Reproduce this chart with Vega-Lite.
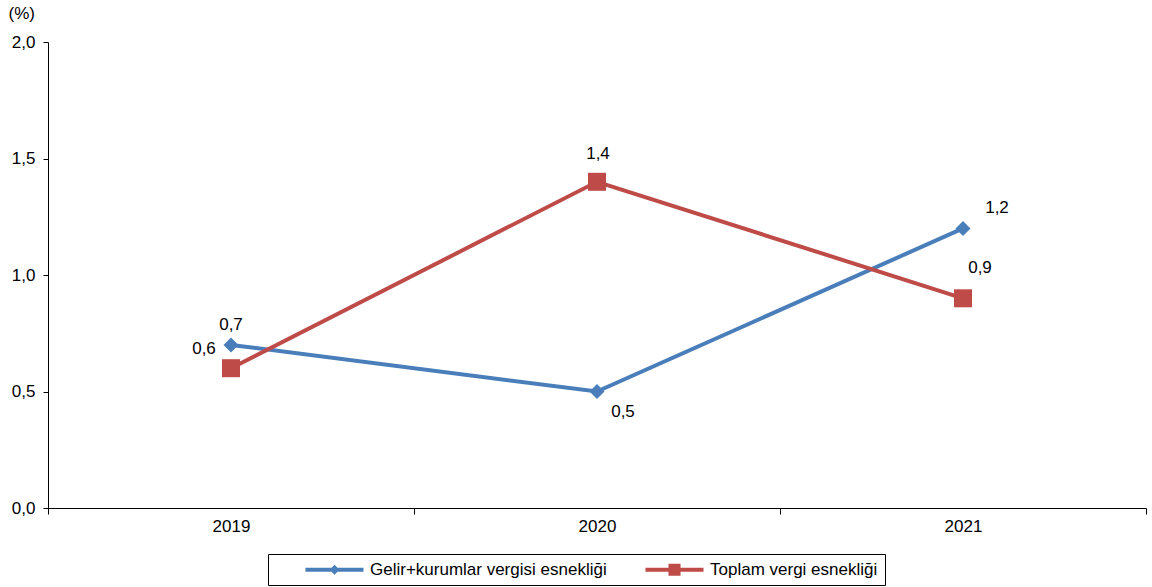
{
  "$schema": "https://vega.github.io/schema/vega-lite/v6.json",
  "width": 1098,
  "height": 466,
  "autosize": {"type": "none"},
  "padding": {"left": 48, "top": 42, "right": 6, "bottom": 79},
  "background": "white",
  "config": {
    "locale": {"number": {"decimal": ",", "thousands": ".", "grouping": [3], "currency": ["", " TL"]}},
    "font": "Liberation Sans",
    "view": {"stroke": null},
    "axis": {"labelFont": "Liberation Sans", "labelFontSize": 17, "labelColor": "black", "domainColor": "black", "tickColor": "black", "grid": false},
    "text": {"font": "Liberation Sans", "fontSize": 17, "color": "black"}
  },
  "data": {
    "values": [
      {"seri": "Gelir+kurumlar vergisi esnekliği", "yil": "2019", "deger": 0.7},
      {"seri": "Gelir+kurumlar vergisi esnekliği", "yil": "2020", "deger": 0.5},
      {"seri": "Gelir+kurumlar vergisi esnekliği", "yil": "2021", "deger": 1.2},
      {"seri": "Toplam vergi esnekliği", "yil": "2019", "deger": 0.6},
      {"seri": "Toplam vergi esnekliği", "yil": "2020", "deger": 1.4},
      {"seri": "Toplam vergi esnekliği", "yil": "2021", "deger": 0.9}
    ]
  },
  "encoding": {
    "x": {
      "field": "yil", "type": "ordinal",
      "scale": {"type": "band", "paddingInner": 0, "paddingOuter": 0},
      "axis": {"title": null, "labelAngle": 0, "tickBand": "extent", "tickSize": 6, "labelPadding": 4, "domainWidth": 1}
    },
    "y": {
      "field": "deger", "type": "quantitative",
      "scale": {"domain": [0, 2], "nice": false, "zero": true},
      "axis": {
        "values": [0, 0.5, 1, 1.5, 2], "format": ".1f", "tickSize": 5, "labelPadding": 8,
        "title": "(%)", "titleAngle": 0, "titleAlign": "left", "titleBaseline": "middle",
        "titleX": -40, "titleY": -29, "titleFont": "Liberation Sans", "titleFontSize": 17, "titleFontWeight": "normal", "titleColor": "black"
      }
    }
  },
  "layer": [
    {
      "mark": {"type": "line", "strokeWidth": 4},
      "encoding": {
        "color": {
          "field": "seri", "type": "nominal",
          "scale": {"domain": ["Gelir+kurumlar vergisi esnekliği", "Toplam vergi esnekliği"], "range": ["#4A7EBB", "#BE4B48"]},
          "legend": {
            "title": null, "orient": "none", "legendX": 220, "legendY": 512, "direction": "horizontal",
            "strokeColor": "black", "fillColor": "white", "padding": 7,
            "symbolSize": 196, "symbolOffset": 73, "columnPadding": 8, "labelOffset": 5,
            "labelFont": "Liberation Sans", "labelFontSize": 17, "labelColor": "black", "labelLimit": 0,
            "labelExpr": "datum.value === 'Toplam vergi esnekliği' ? datum.label + '    ' : datum.label",
            "encode": {
              "symbols": {
                "update": {
                  "shape": [
                    {"test": "datum.value === 'Toplam vergi esnekliği'", "value": "M-7.29,-0.29L1,-0.29L1,0.29L-7.29,0.29Z M-4,-0.86L-2.28,-0.86L-2.28,0.86L-4,0.86Z"},
                    {"value": "M-7.29,-0.29L1,-0.29L1,0.29L-7.29,0.29Z M-3.85,0L-3.14,-0.71L-2.43,0L-3.14,0.71Z"}
                  ],
                  "fill": {"scale": "color", "field": "value"},
                  "fillOpacity": {"value": 1},
                  "strokeWidth": {"value": 0},
                  "size": {"value": 196}
                }
              }
            }
          }
        }
      }
    },
    {
      "transform": [{"filter": "datum.seri === 'Gelir+kurumlar vergisi esnekliği'"}],
      "mark": {"type": "point", "filled": true, "opacity": 1, "shape": "diamond", "size": 225, "color": "#4A7EBB"}
    },
    {
      "transform": [{"filter": "datum.seri === 'Toplam vergi esnekliği'"}],
      "mark": {"type": "point", "filled": true, "opacity": 1, "shape": "square", "size": 324, "color": "#BE4B48"}
    },
    {
      "transform": [{"filter": "datum.seri === 'Gelir+kurumlar vergisi esnekliği' && datum.yil === '2019'"}],
      "mark": {"type": "text", "dx": 0, "dy": -20},
      "encoding": {"text": {"field": "deger", "type": "quantitative", "format": ".1f"}}
    },
    {
      "transform": [{"filter": "datum.seri === 'Toplam vergi esnekliği' && datum.yil === '2019'"}],
      "mark": {"type": "text", "dx": -27, "dy": -19},
      "encoding": {"text": {"field": "deger", "type": "quantitative", "format": ".1f"}}
    },
    {
      "transform": [{"filter": "datum.seri === 'Toplam vergi esnekliği' && datum.yil === '2020'"}],
      "mark": {"type": "text", "dx": 1, "dy": -28},
      "encoding": {"text": {"field": "deger", "type": "quantitative", "format": ".1f"}}
    },
    {
      "transform": [{"filter": "datum.seri === 'Gelir+kurumlar vergisi esnekliği' && datum.yil === '2020'"}],
      "mark": {"type": "text", "dx": 26, "dy": 20},
      "encoding": {"text": {"field": "deger", "type": "quantitative", "format": ".1f"}}
    },
    {
      "transform": [{"filter": "datum.seri === 'Gelir+kurumlar vergisi esnekliği' && datum.yil === '2021'"}],
      "mark": {"type": "text", "dx": 34, "dy": -20},
      "encoding": {"text": {"field": "deger", "type": "quantitative", "format": ".1f"}}
    },
    {
      "transform": [{"filter": "datum.seri === 'Toplam vergi esnekliği' && datum.yil === '2021'"}],
      "mark": {"type": "text", "dx": 17, "dy": -30},
      "encoding": {"text": {"field": "deger", "type": "quantitative", "format": ".1f"}}
    }
  ]
}
